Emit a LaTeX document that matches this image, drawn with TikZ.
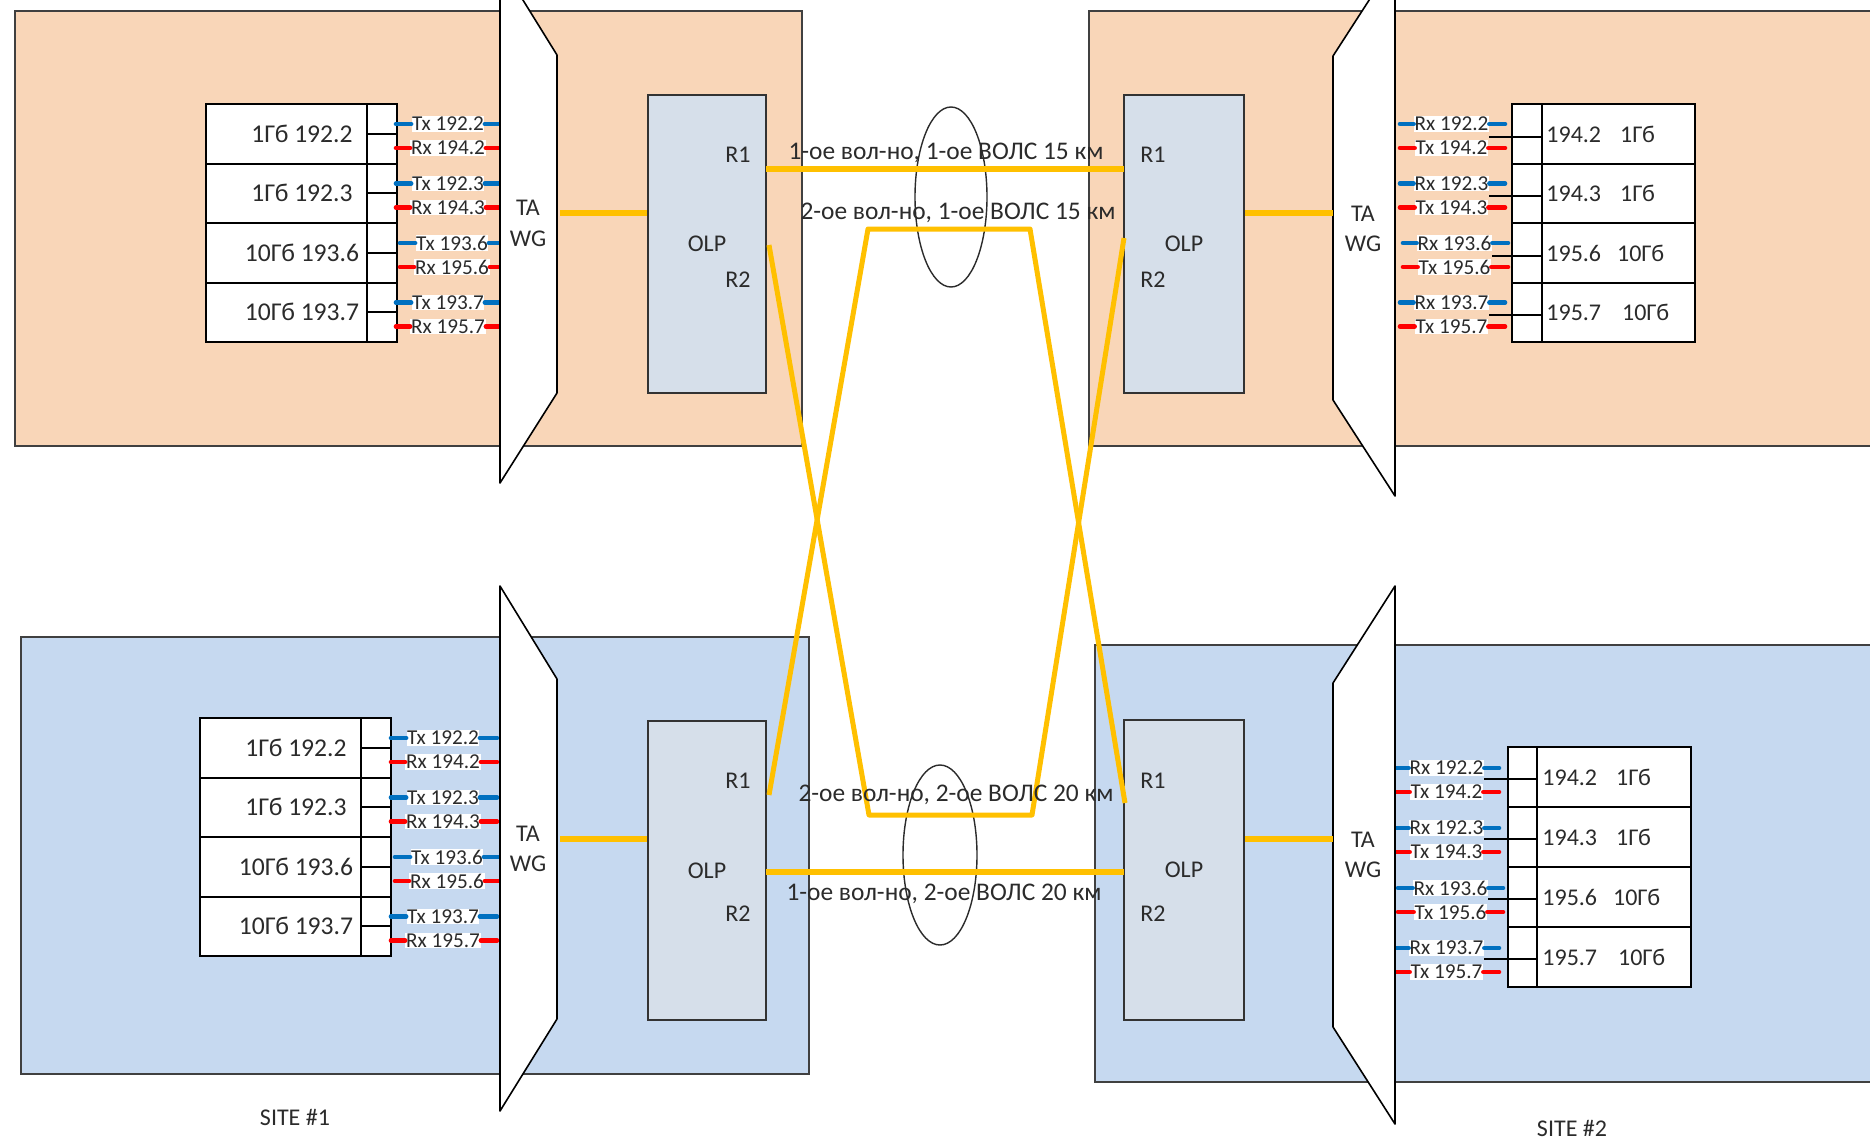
\documentclass[tikz,border=0pt]{standalone}
\usepackage{fontspec}
\setmainfont{Carlito}
\usetikzlibrary{shapes.geometric}
\definecolor{peach}{HTML}{F9D6B8}
\definecolor{lblue}{HTML}{C6D9F0}
\definecolor{olpfill}{HTML}{D6DFEA}
\definecolor{olpline}{HTML}{333333}
\definecolor{boxgray}{HTML}{404040}
\definecolor{fiberc}{HTML}{FFC000}
\definecolor{txblue}{HTML}{0070C0}
\definecolor{rxred}{HTML}{FF0000}
\definecolor{ink}{HTML}{2B2B2B}
\begin{document}
\begin{tikzpicture}[x=0.5pt,y=-0.5pt,
  sitebox/.style={draw=boxgray,line width=1.3pt},
  tbl/.style={draw=black,line width=1pt},
  olpbox/.style={draw=olpline,fill=olpfill,line width=1pt,minimum width=59pt,minimum height=149pt,inner sep=0pt,font=\fontsize{12}{14}\selectfont,text=ink},
  wg/.style={draw=black,fill=white,line width=0.8pt,line join=round},
  txt/.style={text=ink,inner sep=0pt,font=\fontsize{12}{14}\selectfont},
  cell/.style={text=ink,inner sep=0pt,font=\fontsize{12.8}{15}\selectfont},
  rcell/.style={text=ink,inner sep=0pt,anchor=west,font=\fontsize{12}{14}\selectfont},
  lbl/.style={fill=white,text=ink,inner sep=0.3pt,font=\fontsize{10.6}{12.5}\selectfont},
  bdash/.style={draw=txblue,line width=2.3pt,line cap=round},
  rdash/.style={draw=rxred,line width=2.3pt,line cap=round},
  fiber/.style={draw=fiberc,line width=2.8pt},
  fiberx/.style={draw=fiberc,line width=2.5pt,line join=round},
  cable/.style={draw=ink,line width=0.7pt,ellipse,inner sep=0pt},
  fl/.style={text=ink,inner sep=0pt,font=\fontsize{12.7}{15}\selectfont}
]
\clip (0,0) rectangle (1870,1141);
\fill[white] (0,0) rectangle (1870,1141);

% site boxes
\draw[sitebox,fill=peach] (15,11) rectangle (802,446);
\draw[sitebox,fill=peach] (1089,11) rectangle (1880,446);
\draw[sitebox,fill=lblue] (21,637) rectangle (809,1074);
\draw[sitebox,fill=lblue] (1095,645) rectangle (1880,1082);

% ---------- top-left table
\foreach \i/\lab/\laa/\lbb/\sh in {0/1Гб 192.2/Tx 192.2/Rx 194.2/0, 1/1Гб 192.3/Tx 192.3/Rx 194.3/0, 2/10Гб 193.6/Tx 193.6/Rx 195.6/4, 3/10Гб 193.7/Tx 193.7/Rx 195.7/0}{
  \pgfmathsetmacro\yt{104+59.5*\i}
  \draw[tbl,fill=white] (206,\yt) rectangle (397,\yt+59.5);
  \draw[tbl] (367,\yt) -- (367,\yt+59.5);
  \draw[tbl] (367,\yt+29.75) -- (397,\yt+29.75);
  \node[cell] (tlc\i) at (302,\yt+29.75) {\lab};
  \node[lbl] (tla\i) at (448+\sh,\yt+20) {\laa};
  \coordinate (tlaL\i) at (396+\sh,\yt+20);
  \coordinate (tlaR\i) at (501+\sh,\yt+20);
  \draw[bdash] (tlaL\i) -- (tla\i.west);
  \draw[bdash] (tla\i.east) -- (tlaR\i);
  \node[lbl] (tlb\i) at (448+\sh,\yt+44) {\lbb};
  \coordinate (tlbL\i) at (396+\sh,\yt+44);
  \coordinate (tlbR\i) at (501+\sh,\yt+44);
  \draw[rdash] (tlbL\i) -- (tlb\i.west);
  \draw[rdash] (tlb\i.east) -- (tlbR\i);
}

% ---------- bottom-left table
\foreach \i/\lab/\laa/\lbb/\sh in {0/1Гб 192.2/Tx 192.2/Rx 194.2/0, 1/1Гб 192.3/Tx 192.3/Rx 194.3/0, 2/10Гб 193.6/Tx 193.6/Rx 195.6/4, 3/10Гб 193.7/Tx 193.7/Rx 195.7/0}{
  \pgfmathsetmacro\yt{718+59.5*\i}
  \draw[tbl,fill=white] (200,\yt) rectangle (391,\yt+59.5);
  \draw[tbl] (361,\yt) -- (361,\yt+59.5);
  \draw[tbl] (361,\yt+29.75) -- (391,\yt+29.75);
  \node[cell] (blc\i) at (296,\yt+29.75) {\lab};
  \node[lbl] (bla\i) at (443+\sh,\yt+20) {\laa};
  \coordinate (blaL\i) at (391+\sh,\yt+20);
  \coordinate (blaR\i) at (497+\sh,\yt+20);
  \draw[bdash] (blaL\i) -- (bla\i.west);
  \draw[bdash] (bla\i.east) -- (blaR\i);
  \node[lbl] (blb\i) at (443+\sh,\yt+44) {\lbb};
  \coordinate (blbL\i) at (391+\sh,\yt+44);
  \coordinate (blbR\i) at (497+\sh,\yt+44);
  \draw[rdash] (blbL\i) -- (blb\i.west);
  \draw[rdash] (blb\i.east) -- (blbR\i);
}

% ---------- top-right table
\foreach \i/\fa/\fb/\laa/\lbb/\sh/\gp in {0/194.2/1Гб/Rx 192.2/Tx 194.2/0/9.5, 1/194.3/1Гб/Rx 192.3/Tx 194.3/0/9.5, 2/195.6/10Гб/Rx 193.6/Tx 195.6/3/8, 3/195.7/10Гб/Rx 193.7/Tx 195.7/0/10.5}{
  \pgfmathsetmacro\yt{104+59.5*\i}
  \draw[tbl,fill=white] (1512,\yt) rectangle (1695,\yt+59.5);
  \draw[tbl] (1542,\yt) -- (1542,\yt+59.5);
  \node[rcell] (trc\i) at (1546,\yt+30) {\fa\hspace{\gp pt}\fb};
  \node[lbl] (tra\i) at (1451.5+\sh,\yt+20) {\laa};
  \coordinate (traL\i) at (1400+\sh,\yt+20);
  \coordinate (traR\i) at (1505+\sh,\yt+20);
  \draw[bdash] (traL\i) -- (tra\i.west);
  \draw[bdash] (tra\i.east) -- (traR\i);
  \node[lbl] (trb\i) at (1451.5+\sh,\yt+44) {\lbb};
  \coordinate (trbL\i) at (1400+\sh,\yt+44);
  \coordinate (trbR\i) at (1505+\sh,\yt+44);
  \draw[rdash] (trbL\i) -- (trb\i.west);
  \draw[rdash] (trb\i.east) -- (trbR\i);
  \draw[tbl] (tra\i.east |- 0,\yt+32.5) -- (1542,\yt+32.5);
}

% ---------- bottom-right table
\foreach \i/\fa/\fb/\laa/\lbb/\sh/\gp in {0/194.2/1Гб/Rx 192.2/Tx 194.2/0/9.5, 1/194.3/1Гб/Rx 192.3/Tx 194.3/0/9.5, 2/195.6/10Гб/Rx 193.6/Tx 195.6/4/8, 3/195.7/10Гб/Rx 193.7/Tx 195.7/0/10.5}{
  \pgfmathsetmacro\yt{747+60*\i}
  \draw[tbl,fill=white] (1508,\yt) rectangle (1691,\yt+60);
  \draw[tbl] (1537,\yt) -- (1537,\yt+60);
  \node[rcell] (brc\i) at (1542,\yt+30) {\fa\hspace{\gp pt}\fb};
  \node[lbl] (bra\i) at (1446.5+\sh,\yt+21) {\laa};
  \coordinate (braL\i) at (1394+\sh,\yt+21);
  \coordinate (braR\i) at (1499+\sh,\yt+21);
  \draw[bdash] (braL\i) -- (bra\i.west);
  \draw[bdash] (bra\i.east) -- (braR\i);
  \node[lbl] (brb\i) at (1446.5+\sh,\yt+45) {\lbb};
  \coordinate (brbL\i) at (1394+\sh,\yt+45);
  \coordinate (brbR\i) at (1499+\sh,\yt+45);
  \draw[rdash] (brbL\i) -- (brb\i.west);
  \draw[rdash] (brb\i.east) -- (brbR\i);
  \draw[tbl] (bra\i.east |- 0,\yt+32) -- (1537,\yt+32);
}

% ---------- TA WG multiplexers
\draw[wg] (500,-37) -- (557,55) -- (557,393) -- (500,483) -- cycle;
\draw[wg] (1395,-40) -- (1333,56) -- (1333,400) -- (1395,496) -- cycle;
\draw[wg] (500,586) -- (557,679) -- (557,1019) -- (500,1111) -- cycle;
\draw[wg] (1395,586) -- (1333,683) -- (1333,1027) -- (1395,1124) -- cycle;
\node[txt] (taTL) at (528,208) {TA};
\node[txt] (wgTL) at (528,239) {WG};
\node[txt] (taTR) at (1363,214) {TA};
\node[txt] (wgTR) at (1363,244) {WG};
\node[txt] (taBL) at (528,834) {TA};
\node[txt] (wgBL) at (528,864) {WG};
\node[txt] (taBR) at (1363,840) {TA};
\node[txt] (wgBR) at (1363,870) {WG};

% ---------- OLP boxes
\node[olpbox] (olpTL) at (707,244) {OLP};
\node[olpbox,minimum width=60pt] (olpTR) at (1184,244) {OLP};
\node[olpbox,minimum height=149.5pt] (olpBL) at (707,870.5) {OLP};
\node[olpbox,minimum width=60pt,minimum height=150pt] (olpBR) at (1184,870) {OLP};
\node[txt] (r1TL) at (738,155) {R1};
\node[txt] (r2TL) at (738,280) {R2};
\node[txt] (r1TR) at (1153,155) {R1};
\node[txt] (r2TR) at (1153,280) {R2};
\node[txt] (r1BL) at (738,781) {R1};
\node[txt] (r2BL) at (738,914) {R2};
\node[txt] (r1BR) at (1153,781) {R1};
\node[txt] (r2BR) at (1153,914) {R2};

% ---------- cables
\node[cable,minimum width=36pt,minimum height=90pt] (cab1) at (951,197) {};
\node[cable,minimum width=37pt,minimum height=90pt] (cab2) at (940,855) {};

% ---------- WG - OLP links
\coordinate (wgoTL) at (560,213);
\coordinate (wgoTR) at (1333,213);
\coordinate (wgoBL) at (560,839);
\coordinate (wgoBR) at (1333,839);
\draw[fiber] (wgoTL) -- (olpTL.west |- wgoTL);
\draw[fiber] (olpTR.east |- wgoTR) -- (wgoTR);
\draw[fiber] (wgoBL) -- (olpBL.west |- wgoBL);
\draw[fiber] (olpBR.east |- wgoBR) -- (wgoBR);

% ---------- fibres between sites
\coordinate (pTL1) at (766,169);
\coordinate (pTR1) at (1124,169);
\coordinate (pBL2) at (766,872);
\coordinate (pBR2) at (1124,872);
\coordinate (pTL2) at (769,245);
\coordinate (pTR2) at (1124,238);
\coordinate (pBL1) at (769,795);
\coordinate (pBR1) at (1125,803);
\coordinate (k1) at (869,815);
\coordinate (k2) at (1032,815);
\coordinate (k3) at (868,229);
\coordinate (k4) at (1030,229);
\draw[fiber] (pTL1) -- (pTR1);
\draw[fiber] (pBL2) -- (pBR2);
\draw[fiberx] (pTL2) -- (k1) -- (k2) -- (pTR2);
\draw[fiberx] (pBL1) -- (k3) -- (k4) -- (pBR1);

% ---------- fibre labels
\node[fl] (f1) at (946,153) {1-ое вол-но, 1-ое ВОЛС 15 км};
\node[fl] (f2) at (958,213) {2-ое вол-но, 1-ое ВОЛС 15 км};
\node[fl] (f3) at (956,795) {2-ое вол-но, 2-ое ВОЛС 20 км};
\node[fl] (f4) at (944,894) {1-ое вол-но, 2-ое ВОЛС 20 км};

% ---------- site names
\node[txt] (site1) at (295,1117) {SITE \#1};
\node[txt] (site2) at (1572,1128) {SITE \#2};
\end{tikzpicture}
\end{document}
